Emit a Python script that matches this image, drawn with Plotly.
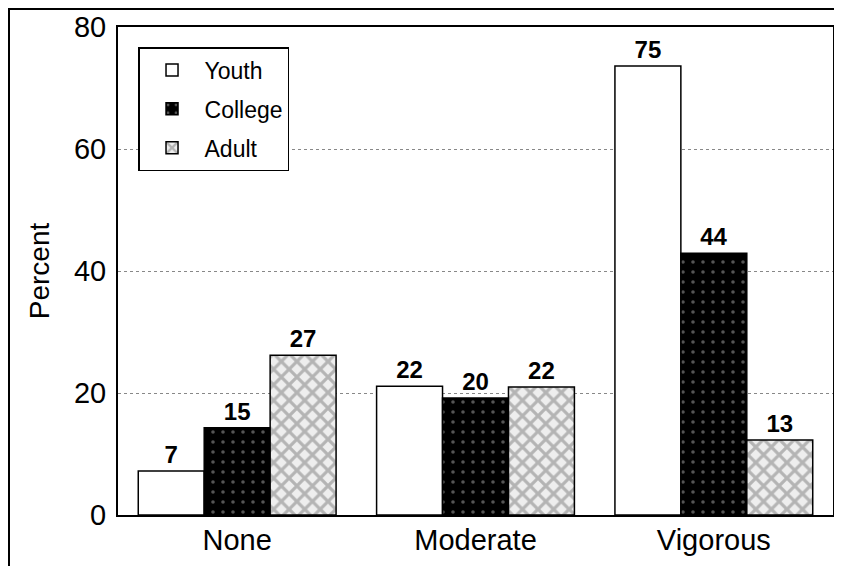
import plotly.graph_objects as go

categories = ["None", "Moderate", "Vigorous"]
series_names = ["Youth", "College", "Adult"]
# bar heights as drawn in the picture
youth_heights = [7.2, 21.1, 73.6]
college_heights = [14.3, 19.2, 42.9]
adult_heights = [26.2, 21.0, 12.3]
# printed value labels
youth_labels = ["7", "22", "75"]
college_labels = ["15", "20", "44"]
adult_labels = ["27", "22", "13"]
y_ticks = [0, 20, 40, 60, 80]

FONT = "Liberation Sans, Arial, sans-serif"

fig = go.Figure()
fig.add_trace(go.Bar(
    name=series_names[0], x=categories, y=youth_heights, text=youth_labels,
    legendgroup="g1",
    marker=dict(color="white", line=dict(color="black", width=1.5)),
))
fig.add_trace(go.Bar(
    name=series_names[1], x=categories, y=college_heights, text=college_labels,
    legendgroup="g2",
    marker=dict(color="black", line=dict(color="black", width=1.5),
                pattern=dict(shape=".", fgcolor="#aaaaaa", bgcolor="black", size=10, solidity=0.1)),
))
fig.add_trace(go.Bar(
    name=series_names[2], x=categories, y=adult_heights, text=adult_labels,
    legendgroup="g3",
    marker=dict(color="white", line=dict(color="black", width=1.5),
                pattern=dict(shape="x", fgcolor="#7a7a7a", bgcolor="#eeeeee", size=11, solidity=0.5)),
))
fig.update_traces(textposition="outside", cliponaxis=False,
                  textfont=dict(family=FONT, size=24, color="black", weight="bold"))

fig.update_layout(
    width=842, height=566,
    margin=dict(l=110, r=17, t=19, b=59),
    paper_bgcolor="white", plot_bgcolor="white",
    barmode="group", bargap=0.17, bargroupgap=0,
    font=dict(family=FONT, color="black"),
    showlegend=True,
    legend=dict(x=0.028, y=0.959, xanchor="left", yanchor="top",
                bgcolor="white", bordercolor="black", borderwidth=1.5,
                font=dict(size=23, family=FONT), tracegroupgap=6,
                itemwidth=55),
    xaxis=dict(showline=True, linecolor="black", linewidth=2, mirror=True,
               tickfont=dict(size=29, family=FONT), ticks="", showgrid=False,
               ticklabelstandoff=-2, automargin=False),
    yaxis=dict(range=[0, 80], tickvals=y_ticks, showline=True, linecolor="black",
               linewidth=2, mirror=True, ticks="", ticklen=0,
               tickfont=dict(size=29, family=FONT), ticklabelstandoff=4,
               showgrid=True, gridcolor="#888888", griddash="dot", gridwidth=1,
               zeroline=False, automargin=False,
               title=dict(text="Percent", font=dict(size=28, family=FONT), standoff=16)),
    shapes=[dict(type="rect", xref="paper", yref="paper",
                 x0=(1 - 110) / 715, y0=-0.3, x1=1.1, y1=1 + 18 / 488,
                 line=dict(color="black", width=2), fillcolor="rgba(0,0,0,0)",
                 layer="below")],
)

fig.write_html("out.html")
